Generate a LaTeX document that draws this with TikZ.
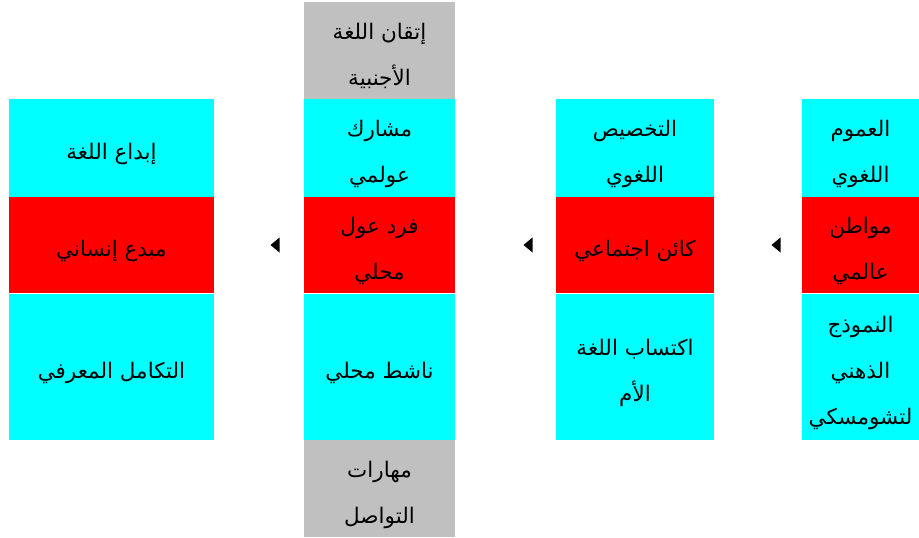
\documentclass[tikz,border=0pt]{standalone}
\usepackage{fontspec}
\newfontfamily\arabicfont[Script=Arabic]{DejaVu Sans}
\TeXXeTstate=1
\usepackage{tikz}
\usetikzlibrary{positioning}
\definecolor{BoxCyan}{HTML}{00FFFF}
\definecolor{BoxRed}{HTML}{FF0000}
\definecolor{BoxGray}{HTML}{C0C0C0}
\newcommand{\artext}[1]{\beginR\rule{0pt}{28pt}#1\endR}

\begin{document}
\begin{tikzpicture}[
  x=1pt, y=-1pt,
  font=\arabicfont\fontsize{21.5}{46}\selectfont,
  node distance=0pt,
  cell/.style={rectangle, inner sep=0pt, align=center, text=black},
  cyanbox/.style={cell, fill=BoxCyan},
  redbox/.style={cell, fill=BoxRed},
  graybox/.style={cell, fill=BoxGray, minimum height=97pt},
  upper/.style={minimum height=98pt},
  middle/.style={minimum height=96pt},
  lower/.style={minimum height=146pt},
  colA/.style={minimum width=205pt},
  colB/.style={minimum width=151pt},
  colC/.style={minimum width=158pt},
  colD/.style={minimum width=117pt},
  pointer/.style={fill=black},
]
\useasboundingbox (0,0) rectangle (919,538);

% column D (right)
\node[cyanbox, colD, upper] (d1) at (860.5,148) {\artext{العموم}\\\artext{اللغوي}};
\node[redbox, colD, middle, below=of d1] (d2) {\artext{مواطن}\\\artext{عالمي}};
\node[cyanbox, colD, lower, below=of d2] (d3) {\artext{النموذج}\\\artext{الذهني}\\\artext{لتشومسكي}};

% column C
\node[cyanbox, colC, upper] (c1) at (635,148) {\artext{التخصيص}\\\artext{اللغوي}};
\node[redbox, colC, middle, below=of c1] (c2) {\artext{كائن اجتماعي}};
\node[cyanbox, colC, lower, below=of c2] (c3) {\artext{اكتساب اللغة}\\\artext{الأم}};

% column B
\node[cyanbox, colB, upper] (b1) at (379.5,148) {\artext{مشارك}\\\artext{عولمي}};
\node[graybox, colB, above=of b1] (b0) {\artext{إتقان اللغة}\\\artext{الأجنبية}};
\node[redbox, colB, middle, below=of b1] (b2) {\artext{فرد عول}\\\artext{محلي}};
\node[cyanbox, colB, lower, below=of b2] (b3) {\artext{ناشط محلي}};
\node[graybox, colB, below=of b3] (b4) {\artext{مهارات}\\\artext{التواصل}};

% column A (left)
\node[cyanbox, colA, upper] (a1) at (111.5,148) {\artext{إبداع اللغة}};
\node[redbox, colA, middle, below=of a1] (a2) {\artext{مبدع إنساني}};
\node[cyanbox, colA, lower, below=of a2] (a3) {\artext{التكامل المعرفي}};

% pointers between columns
\coordinate (pDC) at (776,245);
\coordinate (pCB) at (528,245);
\coordinate (pBA) at (275,245);
\foreach \p in {pDC,pCB,pBA}
  \fill[pointer] (\p) ++(-4.5,0) -- ++(9,-7.5) -- ++(0,15) -- cycle;
\end{tikzpicture}
\end{document}
